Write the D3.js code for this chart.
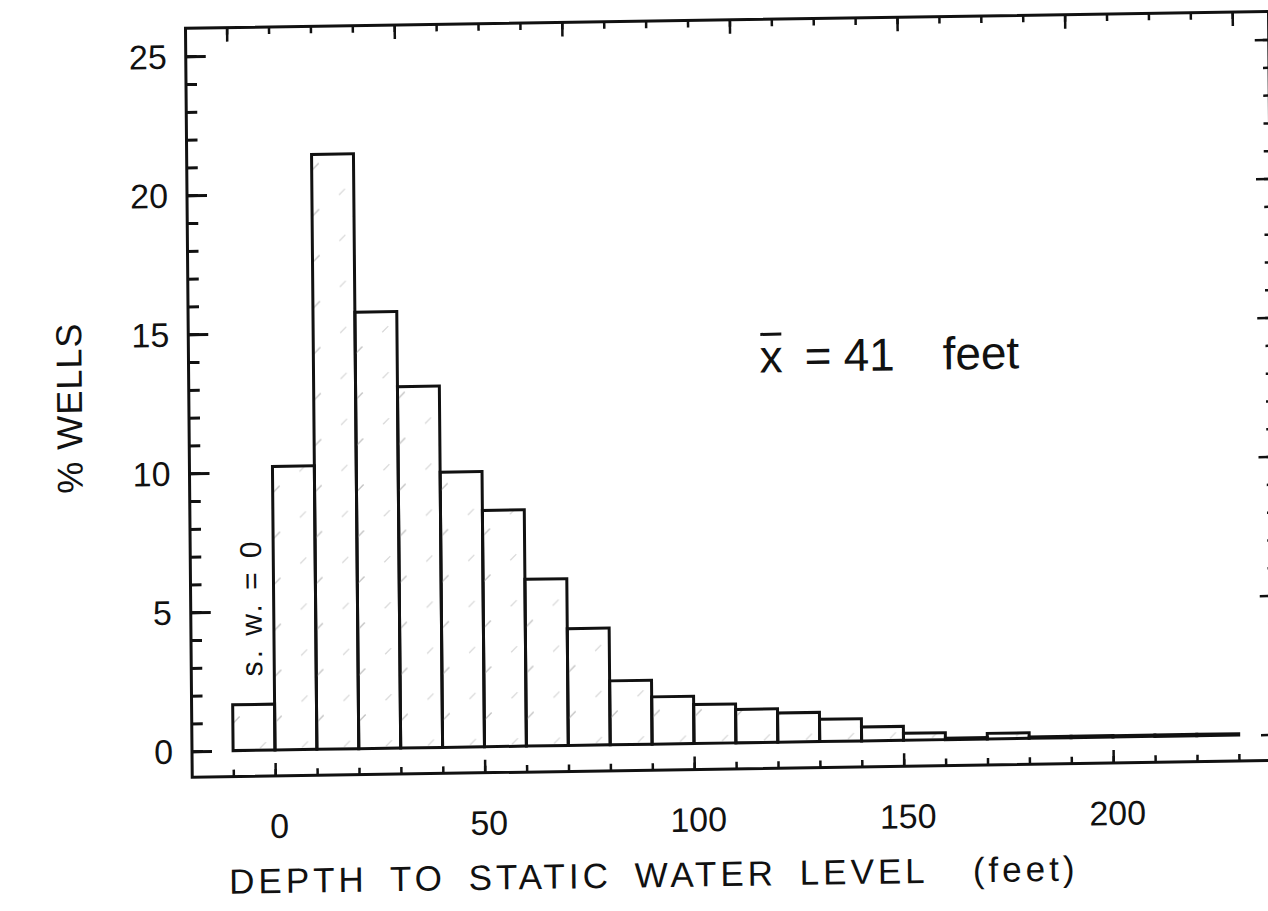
<!DOCTYPE html>
<html>
  <head>
    <meta charset="utf-8">
    <title>Depth to static water level</title>
    <style media="screen">
    body{margin: 0; background: #fff}
    text {
      font-family: "Liberation Sans", Arial, Helvetica, sans-serif;
      fill: #111
    }
    .tick line { stroke: #111 }
    </style>
  </head>
  <body>

    <script src="https://cdn.jsdelivr.net/npm/d3@7"></script>

    <script type="text/javascript">
      // histogram bins (lower edge, feet) and % of wells in each
      var binStart = [-10, 0, 10, 20, 30, 40, 50, 60, 70, 80, 90, 100,
                      110, 120, 130, 140, 150, 160, 170, 180, 190, 200, 210, 220]
      var pctWells = [1.65, 10.2, 21.4, 15.7, 13.0, 9.9, 8.5, 6.0, 4.2, 2.3, 1.7, 1.4,
                      1.2, 1.05, 0.8, 0.5, 0.25, 0.05, 0.2, 0.05, 0.05, 0.05, 0.05, 0.05]
      var binWidth = 10

      var xTickLabels = [0, 50, 100, 150, 200]
      var xMinorTicks = [-10, 0, 10, 20, 30, 40, 50, 60, 70, 80, 90, 100, 110, 120,
                         130, 140, 150, 160, 170, 180, 190, 200, 210, 220, 230]
      var topMajorTicks = [-10, 30, 70, 110, 150, 190, 230]
      var yTickLabels = [0, 5, 10, 15, 20, 25]
      var yMinorTicks = [0, 1, 2, 3, 4, 5, 6, 7, 8, 9, 10, 11, 12, 13, 14, 15, 16,
                         17, 18, 19, 20, 21, 22, 23, 24, 25]
      var meanDepth = 41

      var w = 1268, h = 911
      // frame edges (note: "top" is reserved on window)
      var fLeft = 192, fRight = 1275, fTop = 27, fBottom = 776

      var x = d3.scaleLinear().domain([0, 200]).range([275, 1113])
      var y = d3.scaleLinear().domain([0, 25]).range([750, 55])

      var svg = d3.select('body').append('svg')
        .attr('width', w)
        .attr('height', h)

      var defs = svg.append('defs')
      var hatch = defs.append('pattern')
        .attr('id', 'hatch')
        .attr('patternUnits', 'userSpaceOnUse')
        .attr('width', 42)
        .attr('height', 46)
      hatch.append('line')
        .attr('x1', 22).attr('y1', 34).attr('x2', 30).attr('y2', 26)
        .attr('stroke', '#c4c4c4').attr('stroke-width', 1.4)
      hatch.append('line')
        .attr('x1', 8).attr('y1', 12).attr('x2', 14).attr('y2', 6)
        .attr('stroke', '#d6d6d6').attr('stroke-width', 1.2)

      // the scanned figure is slightly tilted / sheared
      var g = svg.append('g')
        .attr('transform', 'matrix(1,-0.0155,0.009,1,-6.75,4.26)')

      // frame
      g.append('rect')
        .attr('x', fLeft).attr('y', fTop)
        .attr('width', fRight - fLeft).attr('height', fBottom - fTop)
        .attr('fill', 'none')
        .attr('stroke', '#111')
        .attr('stroke-width', 3)

      function tickAxis(axis, pos, size, vals, sw){
        var a = g.append('g')
          .attr('transform', pos)
          .call(axis.tickValues(vals).tickSize(size).tickFormat(''))
        a.select('.domain').remove()
        a.selectAll('.tick line').attr('stroke-width', sw)
        return a
      }

      // left (ticks inward)
      tickAxis(d3.axisRight(y), 'translate(' + fLeft + ',0)', 11, yMinorTicks, 3)
      tickAxis(d3.axisRight(y), 'translate(' + fLeft + ',0)', 20, yTickLabels, 3)
      // right
      tickAxis(d3.axisLeft(y), 'translate(' + fRight + ',0)', 6, yMinorTicks, 2.5)
      tickAxis(d3.axisLeft(y), 'translate(' + fRight + ',0)', 14, yTickLabels, 2.5)
      // bottom
      tickAxis(d3.axisTop(x), 'translate(0,' + fBottom + ')', 7, xMinorTicks, 2.5)
      tickAxis(d3.axisTop(x), 'translate(0,' + fBottom + ')', 13, xTickLabels, 2.5)
      // top
      tickAxis(d3.axisBottom(x), 'translate(0,' + fTop + ')', 7, xMinorTicks, 2.5)
      tickAxis(d3.axisBottom(x), 'translate(0,' + fTop + ')', 14, topMajorTicks, 2.5)

      // tick labels
      g.selectAll('.ylab')
        .data(yTickLabels)
        .enter().append('text')
          .attr('class', 'ylab')
          .attr('x', 173)
          .attr('y', function(d){ return y(d) })
          .attr('dy', '0.36em')
          .attr('text-anchor', 'end')
          .style('font-size', '34px')
          .text(function(d){ return d })

      g.selectAll('.xlab')
        .data(xTickLabels)
        .enter().append('text')
          .attr('class', 'xlab')
          .attr('x', function(d){ return x(d) + 4 })
          .attr('y', 838)
          .attr('text-anchor', 'middle')
          .style('font-size', '34px')
          .text(function(d){ return d })

      // bars
      g.selectAll('.bar')
        .data(binStart)
        .enter().append('rect')
          .attr('class', 'bar')
          .attr('x', function(d){ return x(d) })
          .attr('width', function(d){ return x(d + binWidth) - x(d) })
          .attr('y', function(d, i){ return y(pctWells[i]) })
          .attr('height', function(d, i){ return y(0) - y(pctWells[i]) })
          .attr('fill', 'url(#hatch)')
          .attr('stroke', '#111')
          .attr('stroke-width', 3)

      // annotations
      g.append('text')
        .attr('transform', 'translate(252,607) rotate(-90)')
        .attr('text-anchor', 'middle')
        .attr('dy', '0.36em')
        .style('font-size', '30px')
        .style('letter-spacing', '3px')
        .text('s. w. = 0')

      var mean = g.append('text')
        .attr('y', 380)
        .style('font-size', '46px')
      mean.append('tspan').attr('x', 763).text('x')
      mean.append('tspan').attr('x', 808).text('=')
      mean.append('tspan').attr('x', 847).text(meanDepth)
      mean.append('tspan').attr('x', 946).text('feet')
      g.append('line')
        .attr('x1', 764).attr('x2', 785)
        .attr('y1', 342).attr('y2', 342)
        .attr('stroke', '#111').attr('stroke-width', 3)

      // axis titles
      g.append('text')
        .attr('transform', 'translate(72,405) rotate(-90)')
        .attr('text-anchor', 'middle')
        .attr('dy', '0.36em')
        .style('font-size', '36px')
        .style('letter-spacing', '1px')
        .text('% WELLS')

      g.append('text')
        .attr('x', 228)
        .attr('y', 893)
        .style('font-size', '35px')
        .style('letter-spacing', '4px')
        .style('word-spacing', '9px')
        .style('white-space', 'pre')
        .text('DEPTH TO STATIC WATER LEVEL  (feet)')
    </script>

  </body>
</html>
